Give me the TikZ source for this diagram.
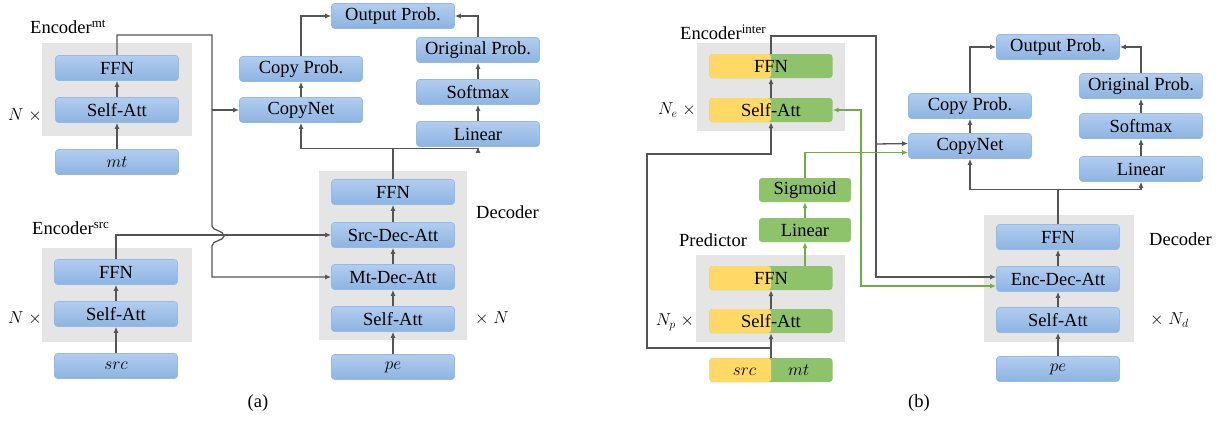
\documentclass[tikz,border=0pt]{standalone}
\usepackage{fontspec}
\setmainfont{Liberation Serif}
\usetikzlibrary{arrows.meta}
\definecolor{blutop}{RGB}{178,205,239}
\definecolor{blubot}{RGB}{141,179,226}
\definecolor{bluedge}{RGB}{150,186,230}
\definecolor{panel}{RGB}{229,229,229}
\definecolor{ylw}{RGB}{255,217,102}
\definecolor{grn}{RGB}{143,195,107}
\definecolor{gline}{RGB}{112,173,71}
\definecolor{dline}{RGB}{85,85,85}
\tikzset{
  blk/.style={rectangle,rounded corners=3pt,draw=bluedge,line width=0.6pt,
    top color=blutop,bottom color=blubot,minimum width=123pt,minimum height=25pt,
    inner sep=0pt,font=\fontsize{18.5}{20}\selectfont},
  halfbox/.style={rectangle,rounded corners=3pt,fill=grn,minimum width=123pt,
    minimum height=24pt,inner sep=0pt,font=\fontsize{18.5}{20}\selectfont,
    path picture={\fill[ylw] (path picture bounding box.south west) rectangle (path picture bounding box.north);}},
  gbox/.style={rectangle,rounded corners=3pt,fill=grn,minimum width=92pt,
    minimum height=24pt,inner sep=0pt,font=\fontsize{18.5}{20}\selectfont},
  arr/.style={draw=dline,line width=1.3pt,-{Latex[length=6pt,width=5pt]}},
  garr/.style={draw=gline,line width=1.2pt,-{Latex[length=6pt,width=5pt]}},
  lbl/.style={font=\fontsize{18.5}{20}\selectfont,inner sep=0pt}
}
\begin{document}
\begin{tikzpicture}[x=1pt,y=-1pt]
  \useasboundingbox (0,0) rectangle (1226,421);
  % ---- (a) ----
  \fill[panel] (42,43) rectangle (192,136);
  \fill[panel] (42,248) rectangle (192,342);
  \fill[panel] (319,171) rectangle (467,340);

  \node (mffn) at (117,68) [blk] {FFN};
  \node (msa) at (117,110) [blk] {Self-Att};
  \node (mt) at (117,162) [blk] {$mt$};
  \node (sffn) at (116,272) [blk] {FFN};
  \node (ssa) at (116,314) [blk] {Self-Att};
  \node (src) at (116,366) [blk] {$src$};

  \node (cnet) at (301,110) [blk] {CopyNet};
  \node (cprob) at (301,69) [blk] {Copy Prob.};
  \node (oprob) at (393,16) [blk] {Output Prob.};
  \node (orig) at (478,50) [blk] {Original Prob.};
  \node (soft) at (478,92) [blk] {Softmax};
  \node (lin) at (478,134) [blk] {Linear};

  \node (dffn) at (393,192) [blk] {FFN};
  \node (sdec) at (393,235) [blk] {Src-Dec-Att};
  \node (mdec) at (393,277) [blk] {Mt-Dec-Att};
  \node (dsa) at (393,319) [blk] {Self-Att};
  \node (pe) at (393,367) [blk] {$pe$};

  \node[lbl,anchor=west] at (30,27) {Encoder\textsuperscript{mt}};
  \node[lbl,anchor=west] at (32,228) {Encoder\textsuperscript{src}};
  \node[lbl] at (25,115) {$N\;\times$};
  \node[lbl] at (25,318) {$N\;\times$};
  \node[lbl,anchor=west] at (476,212) {Decoder};
  \node[lbl,anchor=west] at (475,318) {$\times\;N$};
  \node[lbl] at (258,403) {(a)};

  \foreach \a/\b in {mt/msa,msa/mffn,src/ssa,ssa/sffn,pe/dsa,dsa/mdec,mdec/sdec,sdec/dffn,cnet/cprob,lin/soft,soft/orig}
    \draw[arr] (\a) -- (\b);
  \coordinate (jmt) at (212,110);
  \draw[arr] (mffn.north) |- (212,35) -- (212,226)
    .. controls (212,231) and (224,230) .. (224,236)
    .. controls (224,241) and (212,240) .. (212,246) |- (mdec.west);
  \draw[arr] (jmt) -- (cnet.west);
  \draw[arr] (sffn.north) |- (sdec.west);
  \draw[arr] (dffn.north) -- ++(0,-31) -| (cnet.south);
  \draw[arr] (dffn.north) -- ++(0,-31) -| (lin.south);
  \draw[arr] (cprob.north) |- (oprob.west);
  \draw[arr] (orig.north) |- (oprob.east);

  % ---- (b) ----
  \fill[panel] (697,43) rectangle (845,131);
  \fill[panel] (696,255) rectangle (845,342);
  \fill[panel] (984,215) rectangle (1134,342);

  \node (effn) at (771,66) [halfbox] {FFN};
  \node (esa) at (771,110) [halfbox] {Self-Att};
  \node (pffn) at (771,278) [halfbox] {FFN};
  \node (psa) at (771,321) [halfbox] {Self-Att};
  \node (srcmt) at (771,370) [halfbox] {$src$\hspace{32pt}$mt$};
  \node (sig) at (805,190) [gbox] {Sigmoid};
  \node (plin) at (805,230) [gbox] {Linear};

  \node (bcnet) at (970,146) [blk] {CopyNet};
  \node (bcprob) at (970,106) [blk] {Copy Prob.};
  \node (boprob) at (1058,47) [blk] {Output Prob.};
  \node (borig) at (1141,86) [blk] {Original Prob.};
  \node (bsoft) at (1141,126) [blk] {Softmax};
  \node (blin) at (1141,169) [blk] {Linear};

  \node (bffn) at (1058,237) [blk] {FFN};
  \node (edec) at (1058,279) [blk] {Enc-Dec-Att};
  \node (bsa) at (1058,320) [blk] {Self-Att};
  \node (bpe) at (1058,369) [blk] {$pe$};

  \node[lbl,anchor=west] at (680,32) {Encoder\textsuperscript{inter}};
  \node[lbl] at (677,110) {$N_e\;\times$};
  \node[lbl,anchor=west] at (679,240) {Predictor};
  \node[lbl] at (675,322) {$N_p\;\times$};
  \node[lbl,anchor=west] at (1149,239) {Decoder};
  \node[lbl,anchor=west] at (1150,320) {$\times\;N_d$};
  \node[lbl] at (919,403) {(b)};

  \foreach \a/\b in {srcmt/psa,psa/pffn,esa/effn,bpe/bsa,bsa/edec,edec/bffn,bcnet/bcprob,blin/bsoft,bsoft/borig}
    \draw[arr] (\a) -- (\b);
  \coordinate (jsm) at (771,348);
  \draw[arr] (jsm) -| (647,154) -| (esa.south);
  \coordinate (jenc) at (876,144);
  \draw[arr] (effn.north) |- (876,36) |- ([yshift=2pt]edec.west);
  \draw[arr] (jenc) -- ([yshift=2.5pt]bcnet.west);
  \draw[arr] (bffn.north) -- ++(0,-35) -| (bcnet.south);
  \draw[arr] (bffn.north) -- ++(0,-35) -| (blin.south);
  \draw[arr] (bcprob.north) |- (boprob.west);
  \draw[arr] (borig.north) |- (boprob.east);

  \draw[garr] (plin.south |- pffn.north) -- (plin.south);
  \draw[garr] (plin) -- (sig);
  \draw[garr] (sig.north) |- ([yshift=-6.5pt]bcnet.west);
  \coordinate (gj) at (861,153);
  \draw[garr] (gj) |- (esa.east);
  \draw[garr] (gj) |- ([yshift=-7pt]edec.west);
\end{tikzpicture}
\end{document}
